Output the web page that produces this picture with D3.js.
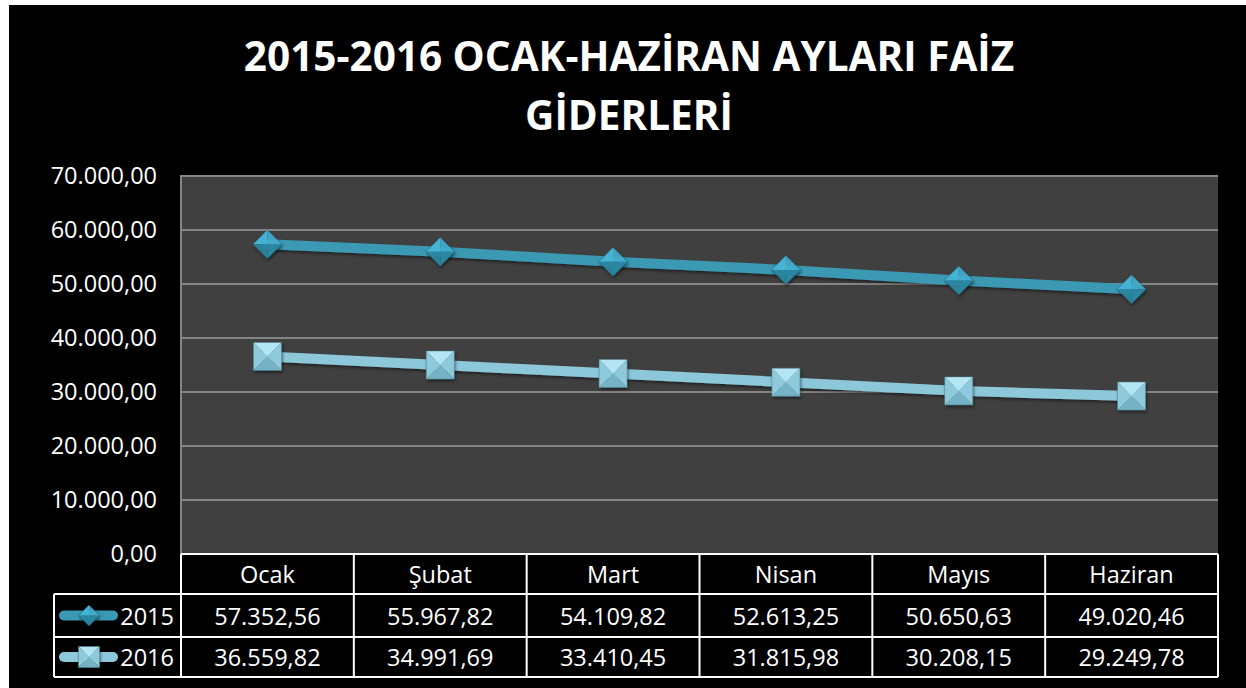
<!DOCTYPE html>
<html>
<head>
<meta charset="utf-8">
<script src="https://cdn.jsdelivr.net/npm/d3@7"></script>
<style>
  html, body { margin: 0; padding: 0; background: #fff; }
  svg { display: block; }
  text { font-family: "Open Sans", sans-serif; }
</style>
</head>
<body>
<div id="chart"></div>
<script>
// veriler
const aylar = ["Ocak", "Şubat", "Mart", "Nisan", "Mayıs", "Haziran"];
const seriAdlari = ["2015", "2016"];
const degerler2015 = [57352.56, 55967.82, 54109.82, 52613.25, 50650.63, 49020.46];
const degerler2016 = [36559.82, 34991.69, 33410.45, 31815.98, 30208.15, 29249.78];
const yTikler = [0, 10000, 20000, 30000, 40000, 50000, 60000, 70000];
const baslik = ["2015-2016 OCAK-HAZİRAN AYLARI FAİZ", "GİDERLERİ"];

const genislik = 1246, yukseklik = 688;
const plotSol = 181, plotSag = 1218, plotUst = 176, plotAlt = 554;
const satirY = [554, 594, 637, 677];
const legendSol = 54;

const tr = d3.formatLocale({ decimal: ",", thousands: ".", grouping: [3], currency: ["", " TL"] });
const fmt = tr.format(",.2f");

const renk2015 = { cizgi: "#3a99b4", ust: "#45b3d3", alt: "#2b87a2", golge: "#1d5668" };
const renk2016 = { cizgi: "#8dc8da", ust: "#b4e5f2", yan: "#8fcadc", alt: "#74b2c5", golge: "#4f7f8e" };

const $svg = d3.select("#chart").append("svg")
  .attr("width", genislik)
  .attr("height", yukseklik);

// arka plan
$svg.append("rect").attr("x", 9).attr("y", 5)
  .attr("width", genislik - 9).attr("height", yukseklik - 5)
  .attr("fill", "#000");

const x = d3.scaleBand().domain(aylar).range([plotSol, plotSag]);
const y = d3.scaleLinear().domain([0, 70000]).range([plotAlt, plotUst]);

// baslik
$svg.append("text")
  .attr("x", 629).attr("y", 71)
  .attr("text-anchor", "middle")
  .attr("fill", "#fff")
  .attr("font-size", 40.5)
  .attr("font-weight", "bold")
  .selectAll("tspan")
  .data(baslik)
  .join("tspan")
  .attr("x", 629)
  .attr("dy", (d, i) => i === 0 ? 0 : 59)
  .text(d => d);

// cizim alani
$svg.append("rect")
  .attr("x", plotSol).attr("y", plotUst)
  .attr("width", plotSag - plotSol).attr("height", plotAlt - plotUst)
  .attr("fill", "#404040");

$svg.append("g")
  .selectAll("line")
  .data(yTikler.slice(1))
  .join("line")
  .attr("x1", plotSol).attr("x2", plotSag)
  .attr("y1", d => y(d)).attr("y2", d => y(d))
  .attr("stroke", "#858585")
  .attr("stroke-width", 2);

$svg.append("line")
  .attr("x1", plotSol).attr("x2", plotSol)
  .attr("y1", plotUst - 1).attr("y2", plotAlt)
  .attr("stroke", "#858585").attr("stroke-width", 2);

// y ekseni
const yEkseni = d3.axisLeft(y).tickValues(yTikler).tickFormat(fmt).tickSize(0).tickPadding(24);
const $yEks = $svg.append("g")
  .attr("transform", `translate(${plotSol},0)`)
  .call(yEkseni);
$yEks.select(".domain").remove();
$yEks.selectAll("text")
  .attr("fill", "#fff")
  .attr("font-size", 23.5)
  .attr("font-family", "Open Sans, sans-serif");

// isaretler
const golgeFiltre = $svg.append("defs").append("filter").attr("id", "golge")
  .attr("x", "-30%").attr("y", "-30%").attr("width", "160%").attr("height", "160%");
golgeFiltre.append("feDropShadow")
  .attr("dx", 1).attr("dy", 2).attr("stdDeviation", 1.5)
  .attr("flood-color", "#000").attr("flood-opacity", 0.5);

const elmas = (g, cx, cy, r, renk) => {
  const m = g.append("g").attr("transform", `translate(${cx},${cy})`).attr("filter", "url(#golge)");
  m.append("path").attr("d", `M${-r},0L0,${-r}L0,0Z`).attr("fill", renk.ust);
  m.append("path").attr("d", `M0,${-r}L${r},0L0,0Z`).attr("fill", renk.ust).attr("opacity", 0.85);
  m.append("path").attr("d", `M${r},0L0,${r}L0,0Z`).attr("fill", renk.alt);
  m.append("path").attr("d", `M0,${r}L${-r},0L0,0Z`).attr("fill", renk.alt).attr("opacity", 0.9);
  m.append("path").attr("d", `M${-r},0L0,${-r}L${r},0L0,${r}Z`)
    .attr("fill", "none").attr("stroke", renk.golge).attr("stroke-width", 0.8).attr("opacity", 0.6);
};

const kare = (g, cx, cy, r, renk) => {
  const m = g.append("g").attr("transform", `translate(${cx},${cy})`).attr("filter", "url(#golge)");
  m.append("path").attr("d", `M${-r},${-r}L${r},${-r}L0,0Z`).attr("fill", renk.ust);
  m.append("path").attr("d", `M${r},${-r}L${r},${r}L0,0Z`).attr("fill", renk.yan);
  m.append("path").attr("d", `M${r},${r}L${-r},${r}L0,0Z`).attr("fill", renk.alt);
  m.append("path").attr("d", `M${-r},${r}L${-r},${-r}L0,0Z`).attr("fill", renk.yan);
  m.append("rect").attr("x", -r).attr("y", -r).attr("width", 2 * r).attr("height", 2 * r)
    .attr("fill", "none").attr("stroke", renk.golge).attr("stroke-width", 0.8).attr("opacity", 0.6);
};

const cizgi = d3.line()
  .x((d, i) => x(aylar[i]) + x.bandwidth() / 2)
  .y(d => y(d));

const seriler = [
  { ad: seriAdlari[0], degerler: degerler2015, renk: renk2015, isaret: elmas, boy: 14.5 },
  { ad: seriAdlari[1], degerler: degerler2016, renk: renk2016, isaret: kare, boy: 14 }
];

seriler.forEach(s => {
  $svg.append("path")
    .datum(s.degerler)
    .attr("d", cizgi)
    .attr("fill", "none")
    .attr("stroke", s.renk.cizgi)
    .attr("stroke-width", 10)
    .attr("stroke-linecap", "round")
    .attr("filter", "url(#golge)");
  const g = $svg.append("g");
  s.degerler.forEach((d, i) => s.isaret(g, x(aylar[i]) + x.bandwidth() / 2, y(d), s.boy, s.renk));
});

// veri tablosu
const tablo = $svg.append("g");

// yatay cizgiler
tablo.append("line").attr("x1", plotSol).attr("x2", plotSag).attr("y1", satirY[0]).attr("y2", satirY[0]);
[1, 2, 3].forEach(i => {
  tablo.append("line").attr("x1", legendSol).attr("x2", plotSag).attr("y1", satirY[i]).attr("y2", satirY[i]);
});
// dikey cizgiler
tablo.append("line").attr("x1", legendSol).attr("x2", legendSol).attr("y1", satirY[1]).attr("y2", satirY[3]);
aylar.forEach(a => {
  tablo.append("line").attr("x1", x(a)).attr("x2", x(a)).attr("y1", satirY[0]).attr("y2", satirY[3]);
});
tablo.append("line").attr("x1", plotSag).attr("x2", plotSag).attr("y1", satirY[0]).attr("y2", satirY[3]);
tablo.selectAll("line").attr("stroke", "#fff").attr("stroke-width", 2);

const yaziOrta = (t) => t.attr("fill", "#fff").attr("font-size", 23.5)
  .attr("text-anchor", "middle").attr("dominant-baseline", "central");

tablo.selectAll("text.ay")
  .data(aylar)
  .join("text")
  .attr("class", "ay")
  .attr("x", d => x(d) + x.bandwidth() / 2)
  .attr("y", (satirY[0] + satirY[1]) / 2)
  .call(yaziOrta)
  .text(d => d);

seriler.forEach((s, si) => {
  const cy = (satirY[si + 1] + satirY[si + 2]) / 2;
  tablo.append("g").selectAll("text")
    .data(s.degerler)
    .join("text")
    .attr("x", (d, i) => x(aylar[i]) + x.bandwidth() / 2)
    .attr("y", cy)
    .call(yaziOrta)
    .text(d => fmt(d));

  // lejant
  tablo.append("line")
    .attr("x1", 64).attr("x2", 113).attr("y1", cy).attr("y2", cy)
    .attr("stroke", s.renk.cizgi).attr("stroke-width", 10).attr("stroke-linecap", "round");
  s.isaret(tablo.append("g"), 89, cy, 10.5, s.renk);
  tablo.append("text")
    .attr("x", 174).attr("y", cy)
    .attr("fill", "#fff").attr("font-size", 23.5)
    .attr("text-anchor", "end").attr("dominant-baseline", "central")
    .text(s.ad);
});
</script>
</body>
</html>
